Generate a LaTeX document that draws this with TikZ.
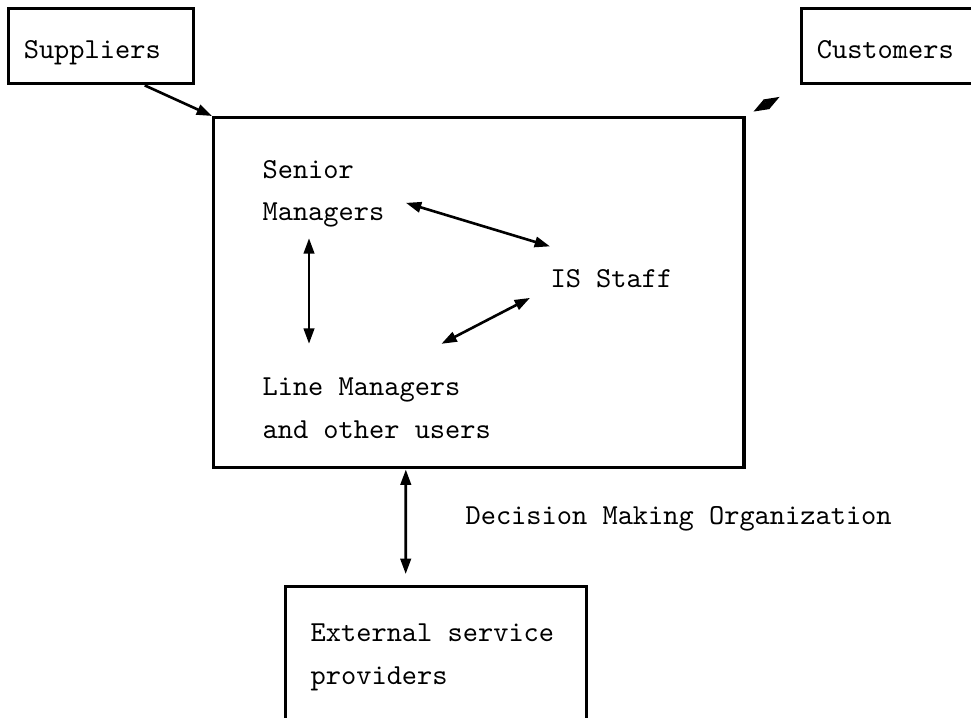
\documentclass[tikz,border=0pt]{standalone}
\usetikzlibrary{arrows.meta,positioning,calc}

\begin{document}
\begin{tikzpicture}[
            x=0.345pt, y=-0.345pt,% one unit = one pixel of the drawing
            font=\ttfamily\fontsize{10pt}{14.8pt}\selectfont,
                box/.style = {rectangle, draw, line width=1.2pt,% framed blocks
                              anchor=north west, inner ysep=0pt, align=left,
                              execute at begin node={\spaceskip=5.25pt\relax}},
                txt/.style = {inner sep=0pt, anchor=base west, align=left},% base = last line
                arr/.style = {line width=0.9pt,
                              {Triangle[length=5.3pt,width=3.6pt]}-{Triangle[length=5.3pt,width=3.6pt]}},
                one/.style = {line width=0.9pt, -{Triangle[length=5.3pt,width=3.6pt]}},
                ]
    \clip (0,0) rectangle (971,717);
    % outside partners
    \node[box, inner xsep=5.2pt, text width=53.4pt,
          text height=17.25pt, text depth=8.6pt] (sup) at (7,7)    {Suppliers};
    \node[box, inner xsep=5.2pt, text width=53.4pt,
          text height=17.25pt, text depth=8.6pt] (cus) at (800,7)  {Customers};
    \node[box, inner xsep=8.6pt, text width=86.6pt,
          text height=19pt, text depth=51pt]     (ext) at (284,585) {External service\\providers};
    % the organization
    \node[box, minimum width=182.9pt, minimum height=120.75pt] (org) at (212,116) {};
    \node[txt] (sm)  at (262,221) {Senior\\Managers};
    \node[txt] (is)  at (550,287) {IS Staff};
    \node[txt] (lm)  at (262,438) {Line Managers\\and other users};
    \node[txt] (dmo) at (465,524) {Decision Making Organization};
    % connectors
    \draw[one] (sup.-42.8) -- (org.north west);
    \draw[arr, shorten <=3pt, shorten >=8pt] (org.north east) -- (cus.south west);
    \draw[arr] ($(sm.east)+(21,9)$)          -- ($(is.north west)+(0,-22)$);
    \draw[arr] ($(is.south west)+(-20,10)$)  -- ($(lm.north east)+(-50,-33)$);
    \draw[arr] ($(sm.south west)+(47,10)$)   -- ($(lm.north west)+(47,-33)$);
    \draw[arr] ($(org.south)+(-73,0)$)       -- ($(ext.north)+(-30.5,-11)$);
\end{tikzpicture}
\end{document}
